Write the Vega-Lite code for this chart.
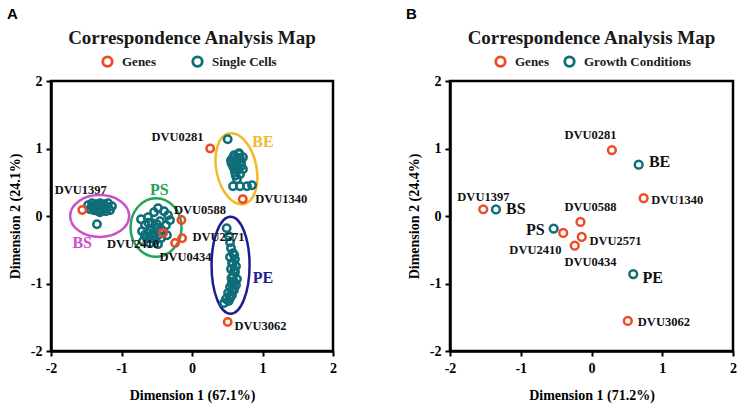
{
  "$schema": "https://vega.github.io/schema/vega-lite/v6.json",
  "background": "white",
  "padding": {"left": 7, "top": 6, "right": 5, "bottom": 5},
  "config": {
    "view": {"stroke": "black", "strokeWidth": 2.5},
    "axis": {
      "domainColor": "black", "domainWidth": 2.5, "tickColor": "black", "tickWidth": 2, "tickSize": 5,
      "labelFont": "Liberation Serif", "labelFontWeight": "bold", "labelFontSize": 14, "labelColor": "black",
      "titleFont": "Liberation Serif", "titleFontWeight": "bold", "titleFontSize": 14, "titleColor": "black",
      "grid": false, "labelFlush": false
    },
    "title": {"font": "Liberation Serif", "fontWeight": "bold", "fontSize": 19, "color": "#1a1a1a"}
  },
  "datasets": {
    "a_points": [
      {"x": -1.475, "y": 0.160, "type": "Single Cells"}, {"x": -1.418, "y": 0.189, "type": "Single Cells"},
      {"x": -1.362, "y": 0.175, "type": "Single Cells"}, {"x": -1.305, "y": 0.189, "type": "Single Cells"},
      {"x": -1.248, "y": 0.175, "type": "Single Cells"}, {"x": -1.191, "y": 0.189, "type": "Single Cells"},
      {"x": -1.135, "y": 0.145, "type": "Single Cells"}, {"x": -1.163, "y": 0.086, "type": "Single Cells"},
      {"x": -1.220, "y": 0.071, "type": "Single Cells"}, {"x": -1.277, "y": 0.086, "type": "Single Cells"},
      {"x": -1.333, "y": 0.071, "type": "Single Cells"}, {"x": -1.390, "y": 0.086, "type": "Single Cells"},
      {"x": -1.447, "y": 0.101, "type": "Single Cells"}, {"x": -1.376, "y": 0.130, "type": "Single Cells"},
      {"x": -1.262, "y": 0.130, "type": "Single Cells"}, {"x": -1.305, "y": 0.056, "type": "Single Cells"},
      {"x": -1.42, "y": 0.14, "type": "Single Cells"}, {"x": -1.34, "y": 0.15, "type": "Single Cells"},
      {"x": -1.27, "y": 0.16, "type": "Single Cells"}, {"x": -1.21, "y": 0.13, "type": "Single Cells"},
      {"x": -1.33, "y": 0.10, "type": "Single Cells"}, {"x": -1.41, "y": 0.12, "type": "Single Cells"},
      {"x": -1.348, "y": -0.121, "type": "Single Cells"},
      {"x": -0.723, "y": -0.047, "type": "Single Cells"}, {"x": -0.624, "y": -0.018, "type": "Single Cells"},
      {"x": -0.539, "y": 0.056, "type": "Single Cells"}, {"x": -0.482, "y": 0.115, "type": "Single Cells"},
      {"x": -0.397, "y": 0.071, "type": "Single Cells"}, {"x": -0.340, "y": 0.012, "type": "Single Cells"},
      {"x": -0.312, "y": -0.062, "type": "Single Cells"}, {"x": -0.667, "y": -0.136, "type": "Single Cells"},
      {"x": -0.567, "y": -0.107, "type": "Single Cells"}, {"x": -0.454, "y": -0.077, "type": "Single Cells"},
      {"x": -0.369, "y": -0.136, "type": "Single Cells"}, {"x": -0.709, "y": -0.225, "type": "Single Cells"},
      {"x": -0.596, "y": -0.210, "type": "Single Cells"}, {"x": -0.496, "y": -0.180, "type": "Single Cells"},
      {"x": -0.411, "y": -0.225, "type": "Single Cells"}, {"x": -0.652, "y": -0.314, "type": "Single Cells"},
      {"x": -0.539, "y": -0.299, "type": "Single Cells"}, {"x": -0.440, "y": -0.328, "type": "Single Cells"},
      {"x": -0.355, "y": -0.284, "type": "Single Cells"}, {"x": -0.596, "y": -0.402, "type": "Single Cells"},
      {"x": -0.482, "y": -0.417, "type": "Single Cells"}, {"x": -0.695, "y": -0.373, "type": "Single Cells"},
      {"x": -0.62, "y": -0.25, "type": "Single Cells"}, {"x": -0.55, "y": -0.25, "type": "Single Cells"},
      {"x": -0.48, "y": -0.28, "type": "Single Cells"}, {"x": -0.60, "y": -0.33, "type": "Single Cells"},
      {"x": -0.52, "y": -0.36, "type": "Single Cells"}, {"x": -0.62, "y": -0.10, "type": "Single Cells"},
      {"x": -0.50, "y": -0.12, "type": "Single Cells"}, {"x": -0.44, "y": -0.20, "type": "Single Cells"},
      {"x": -0.67, "y": -0.28, "type": "Single Cells"},
      {"x": 0.506, "y": 1.136, "type": "Single Cells"}, {"x": 0.596, "y": 0.899, "type": "Single Cells"},
      {"x": 0.667, "y": 0.929, "type": "Single Cells"}, {"x": 0.723, "y": 0.870, "type": "Single Cells"},
      {"x": 0.553, "y": 0.825, "type": "Single Cells"}, {"x": 0.624, "y": 0.825, "type": "Single Cells"},
      {"x": 0.695, "y": 0.796, "type": "Single Cells"}, {"x": 0.582, "y": 0.737, "type": "Single Cells"},
      {"x": 0.652, "y": 0.722, "type": "Single Cells"}, {"x": 0.723, "y": 0.692, "type": "Single Cells"},
      {"x": 0.610, "y": 0.648, "type": "Single Cells"}, {"x": 0.681, "y": 0.618, "type": "Single Cells"},
      {"x": 0.652, "y": 0.840, "type": "Single Cells"}, {"x": 0.638, "y": 0.544, "type": "Single Cells"},
      {"x": 0.62, "y": 0.78, "type": "Single Cells"}, {"x": 0.68, "y": 0.86, "type": "Single Cells"},
      {"x": 0.58, "y": 0.86, "type": "Single Cells"}, {"x": 0.64, "y": 0.68, "type": "Single Cells"},
      {"x": 0.70, "y": 0.74, "type": "Single Cells"}, {"x": 0.60, "y": 0.70, "type": "Single Cells"},
      {"x": 0.66, "y": 0.92, "type": "Single Cells"}, {"x": 0.62, "y": 0.60, "type": "Single Cells"},
      {"x": 0.56, "y": 0.78, "type": "Single Cells"},
      {"x": 0.582, "y": 0.441, "type": "Single Cells"}, {"x": 0.681, "y": 0.441, "type": "Single Cells"},
      {"x": 0.780, "y": 0.441, "type": "Single Cells"}, {"x": 0.851, "y": 0.456, "type": "Single Cells"},
      {"x": 0.492, "y": -0.180, "type": "Single Cells"}, {"x": 0.525, "y": -0.299, "type": "Single Cells"},
      {"x": 0.539, "y": -0.388, "type": "Single Cells"}, {"x": 0.553, "y": -0.476, "type": "Single Cells"},
      {"x": 0.582, "y": -0.550, "type": "Single Cells"}, {"x": 0.539, "y": -0.609, "type": "Single Cells"},
      {"x": 0.610, "y": -0.639, "type": "Single Cells"}, {"x": 0.567, "y": -0.698, "type": "Single Cells"},
      {"x": 0.624, "y": -0.743, "type": "Single Cells"}, {"x": 0.553, "y": -0.787, "type": "Single Cells"},
      {"x": 0.610, "y": -0.831, "type": "Single Cells"}, {"x": 0.582, "y": -0.891, "type": "Single Cells"},
      {"x": 0.638, "y": -0.935, "type": "Single Cells"}, {"x": 0.567, "y": -0.979, "type": "Single Cells"},
      {"x": 0.624, "y": -1.024, "type": "Single Cells"}, {"x": 0.539, "y": -1.053, "type": "Single Cells"},
      {"x": 0.596, "y": -1.098, "type": "Single Cells"}, {"x": 0.511, "y": -1.142, "type": "Single Cells"},
      {"x": 0.567, "y": -1.172, "type": "Single Cells"}, {"x": 0.482, "y": -1.231, "type": "Single Cells"},
      {"x": 0.539, "y": -1.216, "type": "Single Cells"}, {"x": 0.454, "y": -1.290, "type": "Single Cells"},
      {"x": 0.58, "y": -0.70, "type": "Single Cells"}, {"x": 0.60, "y": -0.80, "type": "Single Cells"},
      {"x": 0.56, "y": -0.92, "type": "Single Cells"}, {"x": 0.60, "y": -0.98, "type": "Single Cells"},
      {"x": 0.57, "y": -1.10, "type": "Single Cells"}, {"x": 0.54, "y": -1.18, "type": "Single Cells"},
      {"x": 0.60, "y": -0.58, "type": "Single Cells"}, {"x": 0.58, "y": -1.03, "type": "Single Cells"},
      {"x": 0.52, "y": -1.26, "type": "Single Cells"},
      {"x": -1.557, "y": 0.09, "type": "Genes"}, {"x": 0.257, "y": 1.0, "type": "Genes"},
      {"x": -0.15, "y": -0.06, "type": "Genes"}, {"x": -0.41, "y": -0.25, "type": "Genes"},
      {"x": -0.24, "y": -0.40, "type": "Genes"}, {"x": -0.14, "y": -0.33, "type": "Genes"},
      {"x": 0.72, "y": 0.25, "type": "Genes"}, {"x": 0.506, "y": -1.57, "type": "Genes"}
    ],
    "a_ellipses": [
      {"x": -1.31, "y": 0.0, "group": "BS"},
      {"x": -0.51, "y": -0.17, "group": "PS"},
      {"x": 0.63, "y": 0.70, "group": "BE"},
      {"x": 0.547, "y": -0.73, "group": "PE"}
    ],
    "a_gene_labels": [
      {"x": -0.206, "y": 1.176, "label": "DVU0281"},
      {"x": -1.579, "y": 0.382, "label": "DVU1397"},
      {"x": 0.113, "y": 0.086, "label": "DVU0588"},
      {"x": -0.837, "y": -0.422, "label": "DVU2410"},
      {"x": -0.092, "y": -0.609, "label": "DVU0434"},
      {"x": 0.376, "y": -0.318, "label": "DVU2571"},
      {"x": 1.265, "y": 0.249, "label": "DVU1340"},
      {"x": 0.972, "y": -1.635, "label": "DVU3062"}
    ],
    "a_cluster_labels": [
      {"x": 1.007, "y": 1.096, "group": "BE"},
      {"x": 1.007, "y": -0.925, "group": "PE"},
      {"x": -0.465, "y": 0.382, "group": "PS"},
      {"x": -1.557, "y": -0.407, "group": "BS"}
    ],
    "b_points": [
      {"x": 0.667, "y": 0.76, "type": "Growth Conditions"},
      {"x": -1.35, "y": 0.097, "type": "Growth Conditions"},
      {"x": -0.535, "y": -0.186, "type": "Growth Conditions"},
      {"x": 0.59, "y": -0.86, "type": "Growth Conditions"},
      {"x": 0.288, "y": 0.977, "type": "Genes"}, {"x": 0.737, "y": 0.264, "type": "Genes"},
      {"x": -1.53, "y": 0.10, "type": "Genes"}, {"x": -0.156, "y": -0.088, "type": "Genes"},
      {"x": -0.40, "y": -0.25, "type": "Genes"}, {"x": -0.138, "y": -0.31, "type": "Genes"},
      {"x": -0.237, "y": -0.44, "type": "Genes"}, {"x": 0.513, "y": -1.555, "type": "Genes"}
    ],
    "b_gene_labels": [
      {"x": -0.013, "y": 1.195, "label": "DVU0281"},
      {"x": 1.213, "y": 0.240, "label": "DVU1340"},
      {"x": -1.528, "y": 0.283, "label": "DVU1397"},
      {"x": -0.014, "y": 0.130, "label": "DVU0588"},
      {"x": 0.340, "y": -0.367, "label": "DVU2571"},
      {"x": -0.793, "y": -0.501, "label": "DVU2410"},
      {"x": -0.014, "y": -0.679, "label": "DVU0434"},
      {"x": 1.023, "y": -1.575, "label": "DVU3062"}
    ],
    "b_cond_labels": [
      {"x": 0.962, "y": 0.796, "label": "BE"},
      {"x": -1.069, "y": 0.101, "label": "BS"},
      {"x": -0.794, "y": -0.204, "label": "PS"},
      {"x": 0.865, "y": -0.916, "label": "PE"}
    ]
  },
  "resolve": {"scale": {"color": "independent"}, "legend": {"color": "independent"}},
  "spacing": 68,
  "hconcat": [
    {
      "title": {"text": "A", "anchor": "start", "font": "Liberation Sans", "fontSize": 15, "fontWeight": "bold", "color": "black", "offset": 6},
      "hconcat": [
        {
          "width": 282, "height": 270,
          "title": {"text": "Correspondence Analysis Map", "offset": 26},
          "layer": [
            {"mark": {"type": "rule", "color": "#a6a6a6", "strokeWidth": 1.5}, "encoding": {"x": {"datum": 0, "type": "quantitative", "scale": {"domain": [-2, 2], "nice": false}}}},
            {"mark": {"type": "rule", "color": "#a6a6a6", "strokeWidth": 1.5}, "encoding": {"y": {"datum": 0, "type": "quantitative", "scale": {"domain": [-2, 2], "nice": false}}}},
            {
              "data": {"name": "a_ellipses"},
              "mark": {"type": "point", "filled": false, "strokeWidth": 2.5, "size": 400, "opacity": 1},
              "encoding": {
                "x": {"field": "x", "type": "quantitative"},
                "y": {"field": "y", "type": "quantitative"},
                "shape": {"field": "group", "type": "nominal", "legend": null, "scale": {"domain": ["BS", "PS", "BE", "PE"], "range": [
                  "M2.95,0C2.95,1.16 1.629,2.1 0,2.1C-1.629,2.1 -2.95,1.16 -2.95,0C-2.95,-1.16 -1.629,-2.1 0,-2.1C1.629,-2.1 2.95,-1.16 2.95,0Z",
                  "M2.55,0C2.55,1.618 1.408,2.93 0,2.93C-1.408,2.93 -2.55,1.618 -2.55,0C-2.55,-1.618 -1.408,-2.93 0,-2.93C1.408,-2.93 2.55,-1.618 2.55,0Z",
                  "M1.956,-0.416C2.37,1.528 1.83,3.291 0.749,3.521C-0.332,3.751 -1.543,2.36 -1.956,0.416C-2.37,-1.528 -1.83,-3.291 -0.749,-3.521C0.332,-3.751 1.543,-2.36 1.956,-0.416Z",
                  "M1.9,0C1.9,2.679 1.049,4.85 0,4.85C-1.049,4.85 -1.9,2.679 -1.9,0C-1.9,-2.679 -1.049,-4.85 0,-4.85C1.049,-4.85 1.9,-2.679 1.9,0Z"
                ]}},
                "stroke": {"field": "group", "type": "nominal", "legend": null, "scale": {"domain": ["BS", "PS", "BE", "PE"], "range": ["#cc4fcc", "#22a45a", "#f2b928", "#1c1c94"]}}
              }
            },
            {
              "data": {"name": "a_points"},
              "mark": {"type": "point", "filled": false, "strokeWidth": 2.5, "size": 55, "opacity": 1},
              "encoding": {
                "x": {"field": "x", "type": "quantitative", "title": "Dimension 1 (67.1%)", "scale": {"domain": [-2, 2], "nice": false},
                  "axis": {"values": [-2, -1, 0, 1, 2], "labelExpr": "'' + datum.value", "labelFont": "Liberation Serif", "labelFontWeight": "bold", "labelFontSize": 14, "labelColor": "black", "labelFlush": false, "labelPadding": 5, "titlePadding": 13, "titleFont": "Liberation Serif", "titleFontWeight": "bold", "titleFontSize": 14, "grid": false}},
                "y": {"field": "y", "type": "quantitative", "title": "Dimension 2 (24.1%)", "scale": {"domain": [-2, 2], "nice": false},
                  "axis": {"values": [-2, -1, 0, 1, 2], "labelExpr": "'' + datum.value", "labelFont": "Liberation Serif", "labelFontWeight": "bold", "labelFontSize": 14, "labelColor": "black", "labelFlush": false, "labelPadding": 4, "titlePadding": 8, "titleFont": "Liberation Serif", "titleFontWeight": "bold", "titleFontSize": 14, "grid": false}},
                "color": {"field": "type", "type": "nominal", "sort": null,
                  "scale": {"domain": ["Genes", "Single Cells"], "range": ["#ee4b27", "#0f6e77"]},
                  "legend": {"orient": "none", "legendX": 50, "legendY": -26, "direction": "horizontal", "title": null,
                    "labelFont": "Liberation Serif", "labelFontWeight": "bold", "labelFontSize": 13, "labelColor": "#1a1a1a",
                    "symbolStrokeWidth": 2.8, "symbolSize": 90, "columnPadding": 31, "labelOffset": 8, "padding": 0}}
              }
            },
            {
              "data": {"name": "a_gene_labels"},
              "mark": {"type": "text", "font": "Liberation Serif", "fontWeight": "bold", "fontSize": 12.5, "color": "#111", "align": "center", "baseline": "middle"},
              "encoding": {"x": {"field": "x", "type": "quantitative"}, "y": {"field": "y", "type": "quantitative"}, "text": {"field": "label"}}
            },
            {
              "data": {"name": "a_cluster_labels"},
              "mark": {"type": "text", "font": "Liberation Serif", "fontWeight": "bold", "fontSize": 16, "align": "center", "baseline": "middle"},
              "encoding": {
                "x": {"field": "x", "type": "quantitative"}, "y": {"field": "y", "type": "quantitative"}, "text": {"field": "group"},
                "fill": {"field": "group", "type": "nominal", "legend": null, "scale": {"domain": ["BS", "PS", "BE", "PE"], "range": ["#cc4fcc", "#22a45a", "#f2b928", "#1c1c94"]}}
              }
            }
          ]
        }
      ]
    },
    {
      "title": {"text": "B", "anchor": "start", "font": "Liberation Sans", "fontSize": 15, "fontWeight": "bold", "color": "black", "offset": 6},
      "hconcat": [
        {
          "width": 283, "height": 270,
          "title": {"text": "Correspondence Analysis Map", "offset": 26},
          "layer": [
            {"mark": {"type": "rule", "color": "#a6a6a6", "strokeWidth": 1.5}, "encoding": {"x": {"datum": 0, "type": "quantitative", "scale": {"domain": [-2, 2], "nice": false}}}},
            {"mark": {"type": "rule", "color": "#a6a6a6", "strokeWidth": 1.5}, "encoding": {"y": {"datum": 0, "type": "quantitative", "scale": {"domain": [-2, 2], "nice": false}}}},
            {
              "data": {"name": "b_points"},
              "mark": {"type": "point", "filled": false, "strokeWidth": 2.5, "size": 60, "opacity": 1},
              "encoding": {
                "x": {"field": "x", "type": "quantitative", "title": "Dimension 1 (71.2%)", "scale": {"domain": [-2, 2], "nice": false},
                  "axis": {"values": [-2, -1, 0, 1, 2], "labelExpr": "'' + datum.value", "labelFont": "Liberation Serif", "labelFontWeight": "bold", "labelFontSize": 14, "labelColor": "black", "labelFlush": false, "labelPadding": 5, "titlePadding": 13, "titleFont": "Liberation Serif", "titleFontWeight": "bold", "titleFontSize": 14, "grid": false}},
                "y": {"field": "y", "type": "quantitative", "title": "Dimension 2 (24.4%)", "scale": {"domain": [-2, 2], "nice": false},
                  "axis": {"values": [-2, -1, 0, 1, 2], "labelExpr": "'' + datum.value", "labelFont": "Liberation Serif", "labelFontWeight": "bold", "labelFontSize": 14, "labelColor": "black", "labelFlush": false, "labelPadding": 4, "titlePadding": 8, "titleFont": "Liberation Serif", "titleFontWeight": "bold", "titleFontSize": 14, "grid": false}},
                "color": {"field": "type", "type": "nominal", "sort": null,
                  "scale": {"domain": ["Genes", "Growth Conditions"], "range": ["#ee4b27", "#0f6e77"]},
                  "legend": {"orient": "none", "legendX": 44, "legendY": -26, "direction": "horizontal", "title": null,
                    "labelFont": "Liberation Serif", "labelFontWeight": "bold", "labelFontSize": 13, "labelColor": "#1a1a1a",
                    "symbolStrokeWidth": 2.8, "symbolSize": 90, "columnPadding": 10, "labelOffset": 8, "padding": 0}}
              }
            },
            {
              "data": {"name": "b_gene_labels"},
              "mark": {"type": "text", "font": "Liberation Serif", "fontWeight": "bold", "fontSize": 12.5, "color": "#111", "align": "center", "baseline": "middle"},
              "encoding": {"x": {"field": "x", "type": "quantitative"}, "y": {"field": "y", "type": "quantitative"}, "text": {"field": "label"}}
            },
            {
              "data": {"name": "b_cond_labels"},
              "mark": {"type": "text", "font": "Liberation Serif", "fontWeight": "bold", "fontSize": 16, "color": "#111", "align": "center", "baseline": "middle"},
              "encoding": {"x": {"field": "x", "type": "quantitative"}, "y": {"field": "y", "type": "quantitative"}, "text": {"field": "label"}}
            }
          ]
        }
      ]
    }
  ]
}
